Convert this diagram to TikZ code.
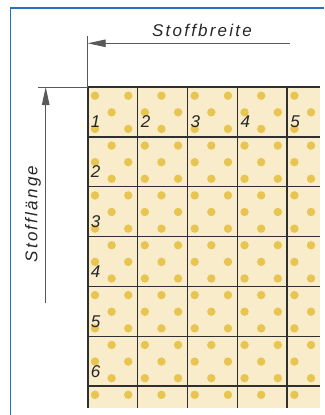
\documentclass[tikz,border=0pt]{standalone}
\usepackage{fontspec}
\setmainfont{Liberation Sans}
\newfontfamily\normfont[LetterSpace=13]{Liberation Sans}
\usetikzlibrary{arrows.meta}
\definecolor{rahmen}{HTML}{2470C2}
\definecolor{stoff}{HTML}{F8ECCB}
\definecolor{punkt}{HTML}{E8C450}
\definecolor{linie}{HTML}{2F2F2F}
\newcommand{\zelle}{49.85}
\newcommand{\raster}{16.617}

\begin{document}
\begin{tikzpicture}[x=1pt, y=-1pt, >={Triangle[length=18pt, width=7.5pt]},
    masz/.style={draw=black!65, line width=0.9pt},
    gitter/.style={draw=linie, line width=1.4pt},
    beschr/.style={font=\fontsize{17}{17}\selectfont\normfont\itshape, text=black!85, inner sep=0pt},
    zahl/.style={font=\fontsize{17}{17}\selectfont\itshape, text=black!85, inner sep=0pt}]
    \useasboundingbox (0,0) rectangle (324,415);

    % Rahmen
    \draw[rahmen, line width=1.3pt] (10.5,415) -- (10.5,8) -- (324,8);

    % Stoff mit Punktmuster
    \fill[stoff] (87.7,87) rectangle (320,407.5);
    \foreach \n [evaluate=\n as \s using {int(mod(\n,2))}] in {0,...,18}
        \foreach \m in {0,...,6}
            \fill[punkt] ({87.7+7.3+\raster*(2*\m+\s)},{87+8.7+\raster*\n}) circle (4.2pt);

    % Gitter
    \foreach \i in {1,...,4}
        \draw[gitter] ({87.7+\zelle*\i},87) -- ({87.7+\zelle*\i},408);
    \foreach \j in {0,...,6}
        \draw[gitter] (87.7,{87+\zelle*\j}) -- (320,{87+\zelle*\j});
    \draw[linie, line width=1.9pt] (87.7,87) -- (87.7,408);

    % Nummern
    \foreach \i in {1,...,5}
        \node[zahl] (s\i) at ({87.7+\zelle*(\i-1)+8},122) {\i};
    \foreach \j in {2,...,6}
        \node[zahl] (z\j) at (95.7,{87+\zelle*(\j-1)+35}) {\j};

    % Masslinien
    \coordinate (eb) at (87.7,35.7);
    \coordinate (ob) at (87.7,87);
    \coordinate (el) at (37.5,87);
    \coordinate (b0) at (87.7,43.3);
    \coordinate (b1) at (290,43.3);
    \coordinate (l0) at (45.7,87);
    \coordinate (l1) at (45.7,303.3);
    \draw[masz] (eb) -- (ob);
    \draw[masz] (el) -- (ob);
    \draw[masz, ->] (b1) -- (b0);
    \draw[masz, ->] (l1) -- (l0);
    \node[beschr, anchor=base] (breite) at (202,36) {Stoffbreite};
    \node[beschr, anchor=base, rotate=90] (laenge) at (37.3,214) {Stofflänge};
\end{tikzpicture}
\end{document}
